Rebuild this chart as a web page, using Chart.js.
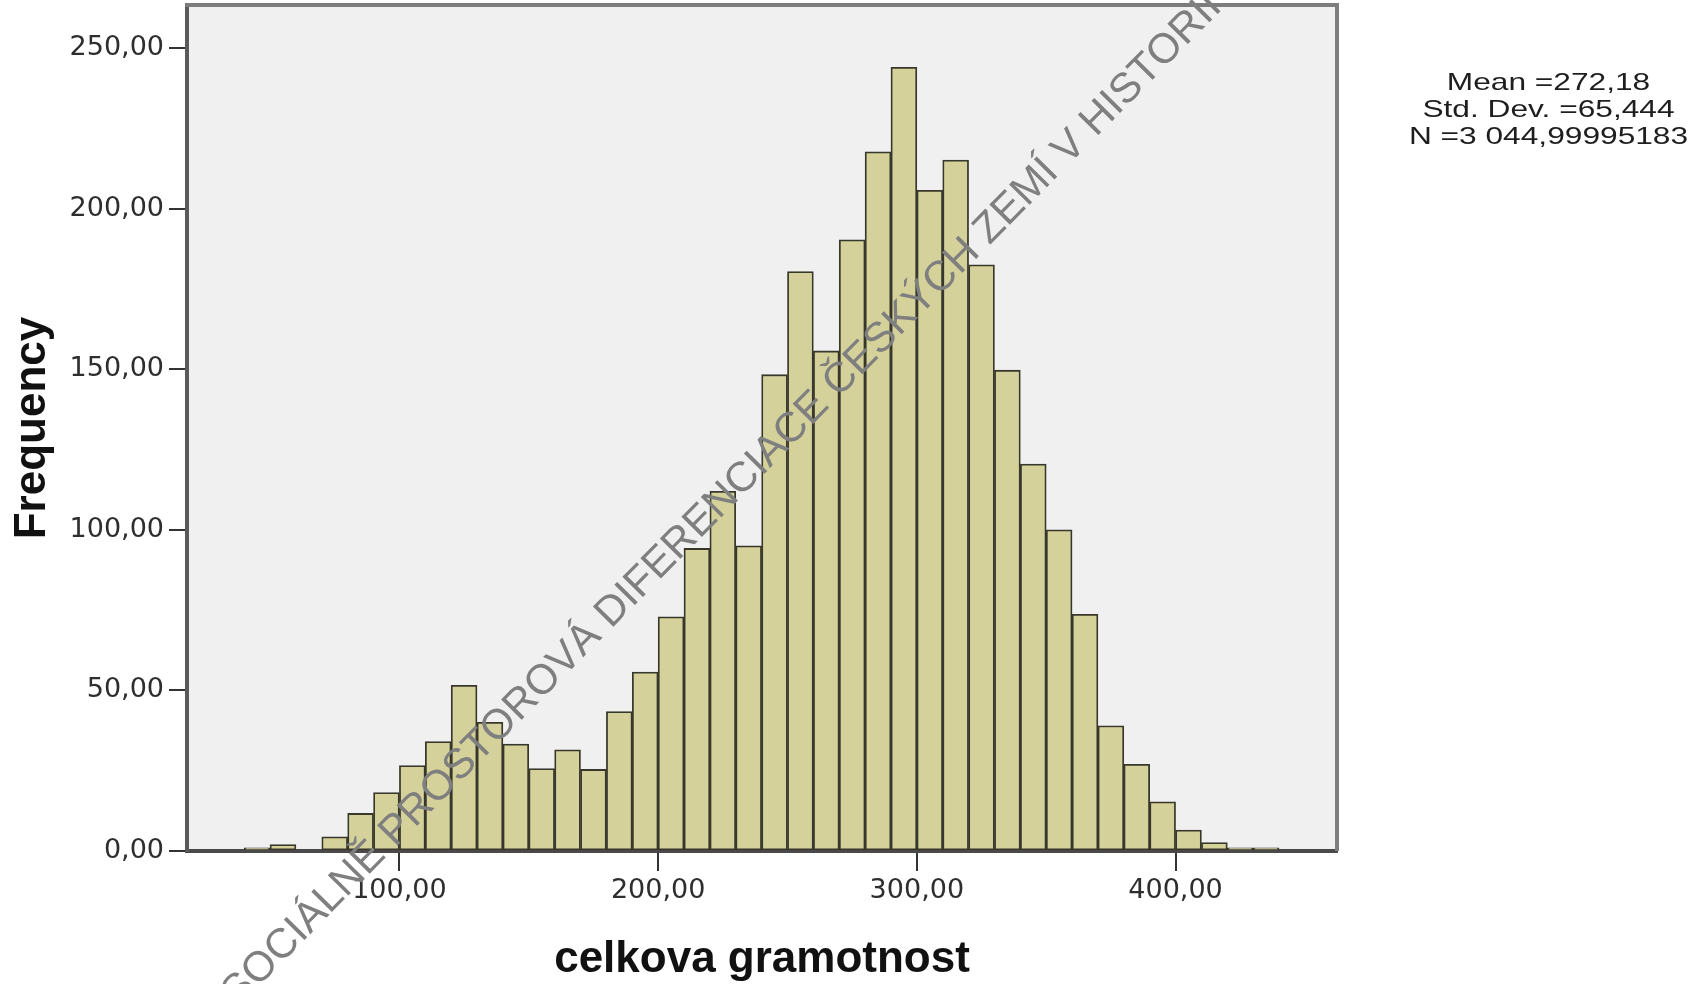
<!DOCTYPE html>
<html>
<head>
<meta charset="utf-8">
<script src="https://cdn.jsdelivr.net/npm/chart.js@4.4.1/dist/chart.umd.min.js"></script>
<style>
  html, body { margin: 0; padding: 0; background: #ffffff; }
  #wrap { width: 1702px; height: 984px; position: relative; }
</style>
</head>
<body>
<div id="wrap"><canvas id="c"></canvas></div>
<script>
// ---- data ----
const binCenters = [45, 55, 65, 75, 85, 95, 105, 115, 125, 135, 145, 155, 165, 175, 185, 195,
  205, 215, 225, 235, 245, 255, 265, 275, 285, 295, 305, 315, 325, 335, 345, 355, 365, 375,
  385, 395, 405, 415, 425, 435];
const frequencies = [1, 2, 0, 4.4, 11.7, 18.2, 26.6, 34.1, 51.6, 40.1, 33.3, 25.7, 31.5, 25.4,
  43.4, 55.7, 72.9, 94.2, 112, 95, 148.3, 180.4, 155.7, 190.3, 217.7, 244, 205.7, 215.1, 182.5,
  149.7, 120.5, 100, 73.7, 39, 27, 15.3, 6.5, 2.6, 1, 1];
const xTickValues = [100, 200, 300, 400];
const yTickValues = [0, 50, 100, 150, 200, 250];
const xTitle = 'celkova gramotnost';
const yTitle = 'Frequency';
const statLines = ['Mean =272,18', 'Std. Dev. =65,444', 'N =3 044,99995183'];
const watermark = 'SOCIÁLNĚ PROSTOROVÁ DIFERENCIACE ČESKÝCH ZEMÍ V HISTORII';

const fmt = v => v.toFixed(2).replace('.', ',');

const bgPlugin = {
  id: 'bg',
  beforeDraw(chart) {
    const {ctx, chartArea: a} = chart;
    ctx.save();
    ctx.fillStyle = '#f0f0f0';
    ctx.fillRect(a.left, a.top, a.right - a.left, a.bottom - a.top);
    ctx.restore();
  },
  afterDraw(chart) {
    const {ctx, chartArea: a} = chart;
    ctx.save();
    // top and right frame
    ctx.strokeStyle = '#7d7d7d';
    ctx.lineWidth = 4;
    ctx.beginPath();
    ctx.moveTo(a.left - 2, a.top);
    ctx.lineTo(a.right, a.top);
    ctx.lineTo(a.right, a.bottom);
    ctx.stroke();
    // stats text
    ctx.fillStyle = '#1e1e1e';
    ctx.font = '24px "Liberation Sans", Arial, sans-serif';
    ctx.textAlign = 'center';
    ctx.textBaseline = 'alphabetic';
    const baselines = [90, 117, 144];
    statLines.forEach((t, i) => {
      ctx.save();
      ctx.translate(1548.5, baselines[i]);
      ctx.scale(1.32, 1);
      ctx.fillText(t, 0, 0);
      ctx.restore();
    });
    // watermark
    ctx.save();
    ctx.translate(229.6, 999.5);
    ctx.rotate(-45.4 * Math.PI / 180);
    ctx.fillStyle = '#7f7f7f';
    ctx.font = '42px "Liberation Sans", Arial, sans-serif';
    ctx.textAlign = 'left';
    ctx.textBaseline = 'middle';
    ctx.fillText(watermark, 0, 0);
    ctx.restore();
    ctx.restore();
  }
};

new Chart(document.getElementById('c'), {
  type: 'bar',
  data: {
    datasets: [{
      data: binCenters.map((x, i) => ({x: x, y: frequencies[i]})),
      backgroundColor: '#d5d19b',
      borderColor: '#38372b',
      borderWidth: 1.8,
      borderSkipped: false,
      barPercentage: 1,
      categoryPercentage: 1
    }]
  },
  options: {
    responsive: true,
    maintainAspectRatio: false,
    animation: false,
    layout: { padding: { left: 0, right: 365, top: 5, bottom: 0 } },
    plugins: { legend: { display: false }, tooltip: { enabled: false } },
    scales: {
      x: {
        type: 'linear',
        min: 17.9,
        max: 462.4,
        offset: false,
        z: 1,
        afterFit(scale) { scale.height = 133; scale.paddingLeft = 0; scale.paddingRight = 0; },
        afterBuildTicks(scale) { scale.ticks = xTickValues.map(v => ({value: v})); },
        grid: { offset: false, drawOnChartArea: false, drawTicks: true, tickLength: 20, color: '#333333', lineWidth: 2 },
        border: { display: true, color: '#4a4a4a', width: 4 },
        ticks: {
          padding: 4,
          color: '#2e2e2e',
          font: { family: '"DejaVu Sans", sans-serif', size: 27 },
          maxRotation: 0,
          autoSkip: false,
          callback: v => fmt(v)
        },
        title: {
          display: true,
          text: xTitle,
          color: '#111111',
          font: { family: '"Liberation Sans", Arial, sans-serif', size: 44, weight: 'bold', lineHeight: 1 },
          padding: { top: 0, bottom: 2 }
        }
      },
      y: {
        type: 'linear',
        min: 0,
        max: 263.4,
        z: 1,
        afterFit(scale) { scale.width = 187; scale.paddingTop = 0; scale.paddingBottom = 0; },
        afterBuildTicks(scale) { scale.ticks = yTickValues.map(v => ({value: v})); },
        grid: { drawOnChartArea: false, drawTicks: true, tickLength: 18, color: '#333333', lineWidth: 2 },
        border: { display: true, color: '#5a5a5a', width: 4 },
        ticks: {
          padding: 5,
          color: '#2e2e2e',
          font: { family: '"DejaVu Sans", sans-serif', size: 27 },
          callback: v => fmt(v)
        },
        title: {
          display: true,
          text: yTitle,
          color: '#111111',
          font: { family: '"Liberation Sans", Arial, sans-serif', size: 44, weight: 'bold', lineHeight: 1.2 },
          padding: { top: 6, bottom: 0 }
        }
      }
    }
  },
  plugins: [bgPlugin]
});
</script>
</body>
</html>
